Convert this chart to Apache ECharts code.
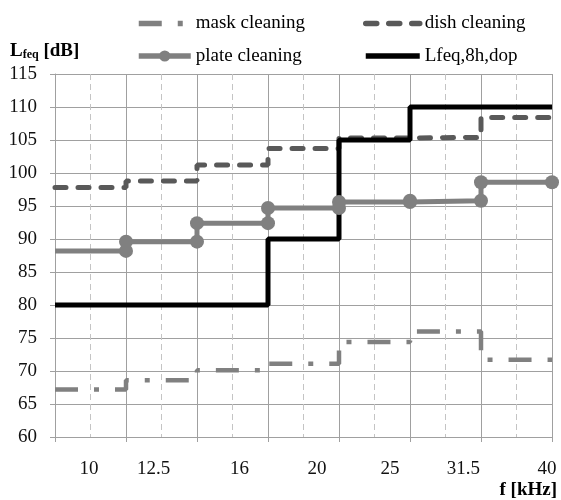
<!DOCTYPE html>
<html>
<head>
<meta charset="utf-8">
<script src="https://cdn.jsdelivr.net/npm/echarts@6/dist/echarts.min.js"></script>
<style>
  html, body { margin: 0; padding: 0; background: #fff; }
  #chart { width: 561px; height: 500px; }
</style>
</head>
<body>
<div id="chart"></div>
<script>
// third-octave bands
var freqLabels = ['10', '12.5', '16', '20', '25', '31.5', '40'];
// band levels, dB
var maskCleaning = [67.2, 68.6, 70.1, 71.1, 74.4, 76.0, 71.7];
var dishCleaning = [97.8, 98.8, 101.2, 103.7, 105.3, 105.4, 108.4];
var plateCleaning = [88.2, 89.6, 92.4, 94.7, 95.6, 95.8, 98.6];
var lfeqLimit = [80, 80, 80, 90, 105, 110, 110];
// y axis
var yMin = 60, yMax = 115, yStep = 5;

// where the band labels sit along the axis (layout, as in the original figure)
var labelAt = [0.48, 1.39, 2.6, 3.69, 4.72, 5.75, 6.93];

var font = '"Liberation Serif", "Times New Roman", serif';
var grid1 = '#a0a0a0';
// zero-area marker so the legend draws the line alone
var noMark = 'path://M0,0L10,10';

// each band drawn flat from its lower to its upper edge
function steps(vals, noFirstSymbol) {
  var pts = [];
  vals.forEach(function (v, i) {
    var a = { value: [i, v] };
    if (i == 0 && noFirstSymbol) a.symbol = 'none';
    pts.push(a);
    pts.push({ value: [i + 1, v] });
  });
  return pts;
}

var legendBase = {
  orient: 'vertical',
  top: 14,
  padding: 0,
  itemHeight: 14,
  itemGap: 13.5,
  lineStyle: { width: 5.5 },
  textStyle: { fontFamily: font, fontSize: 19, color: '#000' }
};

var chart = echarts.init(document.getElementById('chart'));

chart.setOption({
  animation: false,
  textStyle: { fontFamily: font },
  grid: { left: 55, right: 9, top: 74, bottom: 63 },
  legend: [
    Object.assign({}, legendBase, { left: 136, itemWidth: 52, data: ['mask cleaning', 'plate cleaning'] }),
    Object.assign({}, legendBase, { left: 363, itemWidth: 54, data: ['dish cleaning', 'Lfeq,8h,dop'] })
  ],
  xAxis: [{
    type: 'value',
    min: 0,
    max: freqLabels.length,
    interval: 1,
    z: 2,
    axisLine: { onZero: false, lineStyle: { color: grid1 } },
    axisTick: { show: true, length: 5, lineStyle: { color: grid1 } },
    axisLabel: { show: false },
    splitLine: { show: true, lineStyle: { color: grid1, width: 1 } }
  }, {
    type: 'value',
    position: 'bottom',
    min: 0,
    max: freqLabels.length,
    interval: 0.5,
    z: 1,
    axisLine: { show: false },
    axisTick: { show: false },
    axisLabel: {
      customValues: labelAt,
      formatter: function (v) { return freqLabels[labelAt.indexOf(v)]; },
      margin: 23,
      fontFamily: font,
      fontSize: 19,
      color: '#111'
    },
    splitLine: { show: true, lineStyle: { color: '#c4c4c4', type: [6, 4], width: 1 } }
  }],
  yAxis: {
    type: 'value',
    min: yMin,
    max: yMax,
    interval: yStep,
    axisLine: { show: true, lineStyle: { color: grid1 } },
    axisTick: { show: true, length: 5, lineStyle: { color: grid1 } },
    axisLabel: { margin: 18, fontFamily: font, fontSize: 19, color: '#111' },
    splitLine: { lineStyle: { color: grid1, width: 1 } }
  },
  series: [{
    name: 'mask cleaning',
    type: 'line',
    data: steps(maskCleaning),
    showSymbol: false,
    symbol: noMark,
    color: '#808080',
    lineStyle: { color: '#808080', width: 4.5, type: [23, 16, 5, 16], cap: 'butt' }
  }, {
    name: 'dish cleaning',
    type: 'line',
    data: steps(dishCleaning),
    showSymbol: false,
    symbol: noMark,
    color: '#595959',
    lineStyle: { color: '#595959', width: 5, type: [11, 12], cap: 'round' }
  }, {
    name: 'plate cleaning',
    type: 'line',
    data: steps(plateCleaning, true),
    symbol: 'circle',
    symbolSize: 14,
    color: '#808080',
    itemStyle: { color: '#808080' },
    lineStyle: { color: '#808080', width: 5 }
  }, {
    name: 'Lfeq,8h,dop',
    type: 'line',
    data: steps(lfeqLimit),
    showSymbol: false,
    symbol: noMark,
    color: '#000',
    lineStyle: { color: '#000', width: 5 }
  }],
  graphic: [{
    type: 'text',
    x: 10,
    y: 51,
    style: {
      text: '{b|L}{s|feq}{b| [dB]}',
      verticalAlign: 'middle',
      textVerticalAlign: 'middle',
      rich: {
        b: { fontFamily: font, fontSize: 19, fontWeight: 'bold', fill: '#000', color: '#000' },
        s: { fontFamily: font, fontSize: 12, fontWeight: 'bold', fill: '#000', color: '#000', verticalAlign: 'bottom', padding: [6, 0, 0, 0] }
      }
    }
  }, {
    type: 'text',
    x: 557,
    y: 490,
    style: {
      text: 'f [kHz]',
      align: 'right',
      textAlign: 'right',
      verticalAlign: 'middle',
      textVerticalAlign: 'middle',
      font: 'bold 19px ' + font,
      fill: '#000'
    }
  }]
});
</script>
</body>
</html>
